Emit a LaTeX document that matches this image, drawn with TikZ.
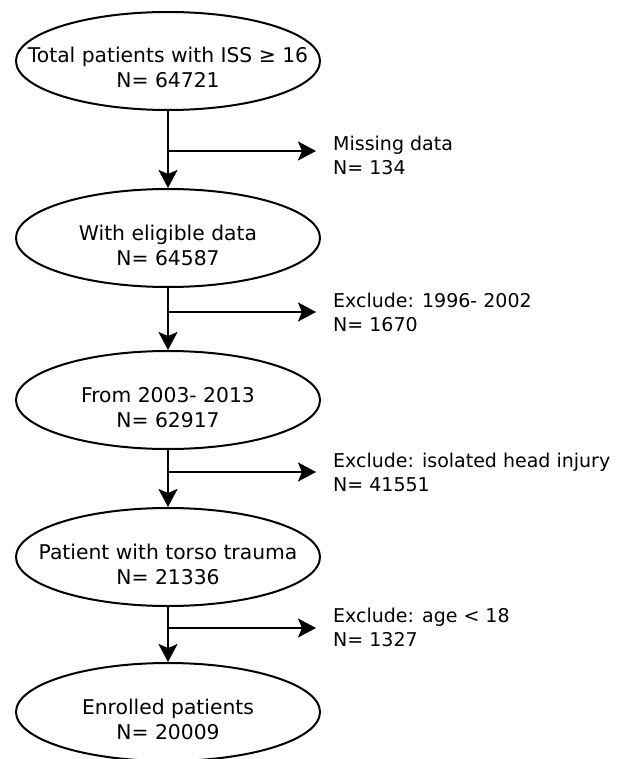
\documentclass[tikz,border=0pt]{standalone}
\usepackage{fontspec}
\setmainfont{DejaVu Sans}
\usetikzlibrary{shapes.geometric,arrows.meta}
\tikzset{
  stage/.style={ellipse,draw,line width=2pt,minimum width=304pt,minimum height=98pt,inner sep=0pt},
  note/.style={anchor=north west,inner sep=0pt,align=left,font=\fontsize{19}{24.5}\selectfont},
  flow/.style={line width=2pt,-{Stealth[length=18pt,width=19pt,inset=4pt]}}
}
\newcommand{\stagetext}[2]{\raisebox{-27pt}[0pt][0pt]{\makebox[0pt]{\fontsize{20.3}{25}\selectfont\begin{tabular}[b]{@{}c@{}}#1\\#2\end{tabular}}}}

\begin{document}
\begin{tikzpicture}[x=1pt,y=-1pt]
\useasboundingbox (0,0) rectangle (621,759);
\node[stage] at (168,61) (s1) {\stagetext{Total patients with ISS ≥ 16}{N= 64721}};
\node[stage] at (168,238) (s2) {\stagetext{With eligible data}{N= 64587}};
\node[stage] at (168,400) (s3) {\stagetext{From 2003- 2013}{N= 62917}};
\node[stage] at (168,557) (s4) {\stagetext{Patient with torso trauma}{N= 21336}};
\node[stage] at (168,712) (s5) {\stagetext{Enrolled patients}{N= 20009}};
\node[note] at (333,135.5) (x1) {Missing data\\N= 134};
\node[note] at (333,292.5) (x2) {Exclude: 1996- 2002\\N= 1670};
\node[note] at (333,452.5) (x3) {Exclude: isolated head injury\\N= 41551};
\node[note] at (333,607.5) (x4) {Exclude: age < 18\\N= 1327};
\coordinate (b1) at (168,151);
\coordinate (b2) at (168,312);
\coordinate (b3) at (168,472);
\coordinate (b4) at (168,628);
\draw[flow] (s1.south) -- (s2.north);
\draw[flow] (s2.south) -- (s3.north);
\draw[flow] (s3.south) -- (s4.north);
\draw[flow] (s4.south) -- (s5.north);
\draw[flow] (b1) -- ++(148,0);
\draw[flow] (b2) -- ++(148,0);
\draw[flow] (b3) -- ++(148,0);
\draw[flow] (b4) -- ++(148,0);
\end{tikzpicture}
\end{document}
